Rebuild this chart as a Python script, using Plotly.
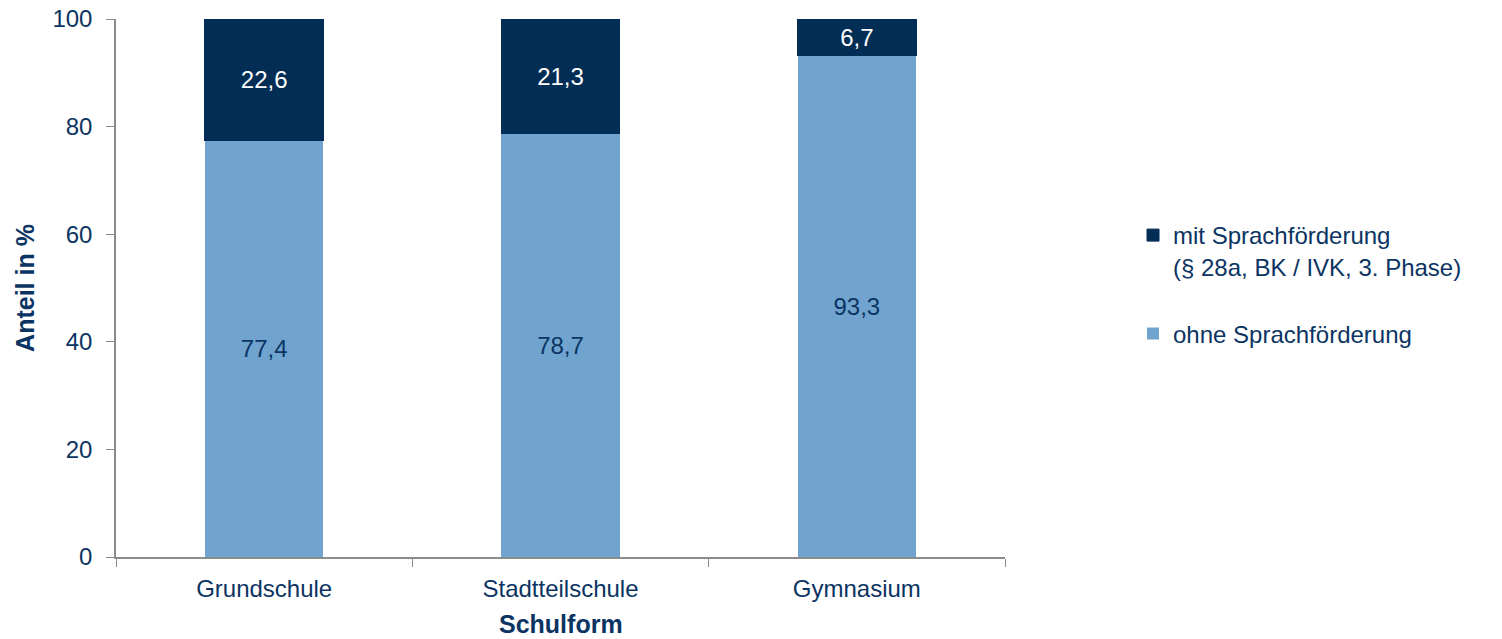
import plotly.graph_objects as go

categories = ["Grundschule", "Stadtteilschule", "Gymnasium"]
ohne = [77.4, 78.7, 93.3]
mit = [22.6, 21.3, 6.7]
name_ohne = "ohne Sprachförderung"
name_mit = "mit Sprachförderung<br>(§ 28a, BK / IVK, 3. Phase)"
x_title = "Schulform"
y_title = "Anteil in %"

TXT = "#0B3463"
DARK = "#022D55"
LIGHT = "#70A4CF"
FONT = "Liberation Sans, Arial, sans-serif"
FS = 24

fig = go.Figure()
fig.add_trace(go.Bar(
    x=categories, y=ohne, name=name_ohne, marker_color=LIGHT,
    marker_line=dict(color=LIGHT, width=0),
    texttemplate="%{y:.1f}", textposition="inside", insidetextanchor="middle",
    textangle=0, textfont=dict(color=TXT, size=FS, family=FONT),
    legendgroup="b", legendrank=2, constraintext="none",
))
fig.add_trace(go.Bar(
    x=categories, y=mit, name=name_mit, marker_color=DARK,
    marker_line=dict(color=DARK, width=1),
    texttemplate="%{y:.1f}", textposition="inside", insidetextanchor="middle",
    textangle=0, textfont=dict(color="white", size=FS, family=FONT),
    legendgroup="a", legendrank=1, constraintext="none",
))

fig.add_annotation(
    text="<b>" + x_title + "</b>", xref="paper", yref="paper",
    x=0.5, y=-0.124, xanchor="center", yanchor="middle", showarrow=False,
    font=dict(size=25, color=TXT, family=FONT),
)

fig.update_layout(
    barmode="stack",
    bargap=0.6,
    separators=",.",
    width=1502, height=639,
    margin=dict(l=116, r=497, t=19, b=82, autoexpand=False),
    plot_bgcolor="white", paper_bgcolor="white",
    font=dict(family=FONT, color=TXT, size=FS),
    showlegend=True,
    legend=dict(
        x=1.144, xanchor="left", y=0.6394, yanchor="top",
        traceorder="grouped", tracegroupgap=33, valign="top",
        font=dict(size=FS, color=TXT, family=FONT),
        itemwidth=30,
    ),
    xaxis=dict(
        range=[-0.5, 2.5], showline=True, linecolor="#8C8C8C", linewidth=1.5,
        ticks="outside", tickson="boundaries", ticklen=8, tickcolor="#8C8C8C",
        ticklabelstandoff=9, automargin=False,
        tickfont=dict(size=FS, color=TXT),
    ),
    yaxis=dict(
        range=[0, 100], tickvals=[0, 20, 40, 60, 80, 100], showgrid=False,
        zeroline=False, showline=True, linecolor="#8C8C8C", linewidth=1.5,
        ticks="outside", ticklen=8, tickcolor="#8C8C8C",
        ticklabelstandoff=9, ticklabeloverflow="allow", automargin=False,
        tickfont=dict(size=FS, color=TXT),
        title=dict(text="<b>" + y_title + "</b>", font=dict(size=25, color=TXT), standoff=11),
    ),
)

fig.write_html("out.html", config={"displayModeBar": False},
               post_script="document.body.style.margin='0px';")
